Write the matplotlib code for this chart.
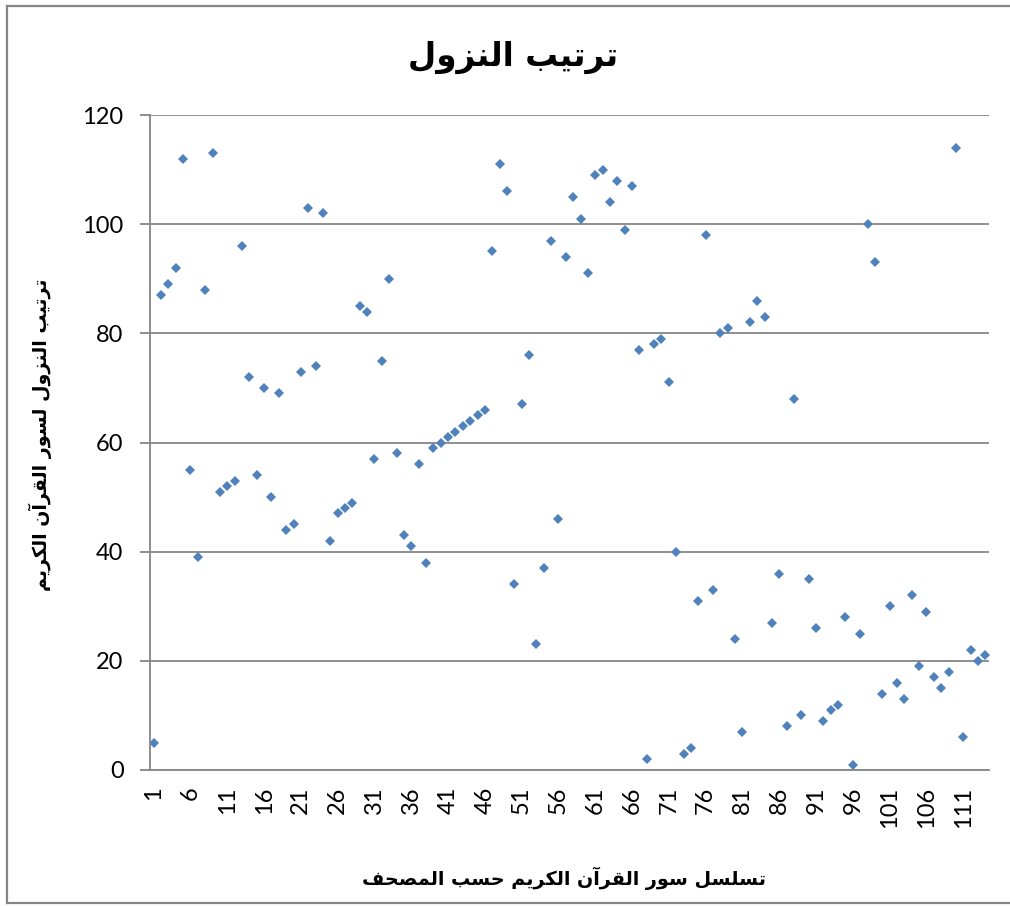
import matplotlib
matplotlib.use("Agg")
import matplotlib.pyplot as plt
from matplotlib.lines import Line2D

# ---- data ----
surah = list(range(1, 115))
revelation_order = [5, 87, 89, 92, 112, 55, 39, 88, 113, 51, 52, 53, 96, 72, 54, 70, 50, 69, 44, 45,
                    73, 103, 74, 102, 42, 47, 48, 49, 85, 84, 57, 75, 90, 58, 43, 41, 56, 38, 59, 60,
                    61, 62, 63, 64, 65, 66, 95, 111, 106, 34, 67, 76, 23, 37, 97, 46, 94, 105, 101, 91,
                    109, 110, 104, 108, 99, 107, 77, 2, 78, 79, 71, 40, 3, 4, 31, 98, 33, 80, 81, 24,
                    7, 82, 86, 83, 27, 36, 8, 68, 10, 35, 26, 9, 11, 12, 28, 1, 25, 100, 93, 14,
                    30, 16, 13, 32, 19, 29, 17, 15, 18, 114, 6, 22, 20, 21]
x_ticks = list(range(1, 115, 5))
y_ticks = [0, 20, 40, 60, 80, 100, 120]
title_text = "ترتيب النزول"
xlabel_text = "تسلسل سور القرآن الكريم حسب المصحف"
ylabel_text = "ترتيب النزول لسور القرآن الكريم"

# ---- minimal Arabic shaping (matplotlib has no bidi/shaping) ----
FORMS = {  # isolated, final, initial, medial
    'ا': ('\uFE8D', '\uFE8E', None, None),
    'آ': ('\uFE81', '\uFE82', None, None),
    'ب': ('\uFE8F', '\uFE90', '\uFE91', '\uFE92'),
    'ت': ('\uFE95', '\uFE96', '\uFE97', '\uFE98'),
    'ح': ('\uFEA1', '\uFEA2', '\uFEA3', '\uFEA4'),
    'ر': ('\uFEAD', '\uFEAE', None, None),
    'ز': ('\uFEAF', '\uFEB0', None, None),
    'س': ('\uFEB1', '\uFEB2', '\uFEB3', '\uFEB4'),
    'ص': ('\uFEB9', '\uFEBA', '\uFEBB', '\uFEBC'),
    'ف': ('\uFED1', '\uFED2', '\uFED3', '\uFED4'),
    'ق': ('\uFED5', '\uFED6', '\uFED7', '\uFED8'),
    'ك': ('\uFED9', '\uFEDA', '\uFEDB', '\uFEDC'),
    'ل': ('\uFEDD', '\uFEDE', '\uFEDF', '\uFEE0'),
    'م': ('\uFEE1', '\uFEE2', '\uFEE3', '\uFEE4'),
    'ن': ('\uFEE5', '\uFEE6', '\uFEE7', '\uFEE8'),
    'و': ('\uFEED', '\uFEEE', None, None),
    'ي': ('\uFEF1', '\uFEF2', '\uFEF3', '\uFEF4'),
}


def shape(s):
    out = []
    for i, c in enumerate(s):
        if c not in FORMS:
            out.append(c)
            continue
        prev = s[i - 1] if i > 0 else ''
        nxt = s[i + 1] if i + 1 < len(s) else ''
        jp = prev in FORMS and FORMS[prev][2] is not None
        jn = nxt in FORMS and FORMS[c][2] is not None
        f = FORMS[c]
        if jp and jn:
            out.append(f[3])
        elif jp:
            out.append(f[1])
        elif jn:
            out.append(f[2])
        else:
            out.append(f[0])
    return ''.join(reversed(out))


W, H = 1010, 906
fig = plt.figure(figsize=(W / 100, H / 100), dpi=100)
ax = fig.add_axes([150 / W, 1 - 770 / H, (989 - 150) / W, (770 - 115) / H])

ax.plot(surah, revelation_order, linestyle='none', marker='D', markersize=5.4,
        color='#4F81BD', markeredgewidth=0)

ax.set_xlim(0.5, 114.5)
ax.set_ylim(0, 120)
ax.set_yticks(y_ticks)
ax.set_xticks(x_ticks)
ax.set_xticklabels([str(t) for t in x_ticks], rotation=90)
ax.grid(axis='y', color='#868686', linewidth=1.3)
ax.set_axisbelow(True)
for s in ['top', 'right']:
    ax.spines[s].set_visible(False)
for s in ['left', 'bottom']:
    ax.spines[s].set_color('#868686')
    ax.spines[s].set_linewidth(1.3)
ax.tick_params(axis='y', length=7, width=1.3, color='#868686', labelsize=17, pad=12)
ax.tick_params(axis='x', length=0, labelsize=17, pad=12)
for lab in ax.get_xticklabels() + ax.get_yticklabels():
    lab.set_fontfamily('Lato')

arab = ['DejaVu Sans']
fig.text(513 / W, 1 - 57 / H, shape(title_text), ha='center', va='center',
         fontsize=23.5, fontweight='bold', family=arab)
fig.text(564 / W, 1 - 878 / H, shape(xlabel_text), ha='center', va='center',
         fontsize=13.8, fontweight='bold', family=arab)
fig.text(40 / W, 1 - 435 / H, shape(ylabel_text), ha='center', va='center',
         rotation=90, fontsize=13.7, fontweight='bold', family=arab)

# chart outer border (right edge lies outside the picture)
bc = '#868686'
fig.add_artist(Line2D([7 / W, 1.01], [1 - 6 / H, 1 - 6 / H], color=bc, linewidth=1.6, transform=fig.transFigure))
fig.add_artist(Line2D([7 / W, 7 / W], [1 - 6 / H, 1 - 903 / H], color=bc, linewidth=1.6, transform=fig.transFigure))
fig.add_artist(Line2D([7 / W, 1.01], [1 - 903 / H, 1 - 903 / H], color=bc, linewidth=1.6, transform=fig.transFigure))

fig.savefig('out.png', dpi=100, facecolor='white')
